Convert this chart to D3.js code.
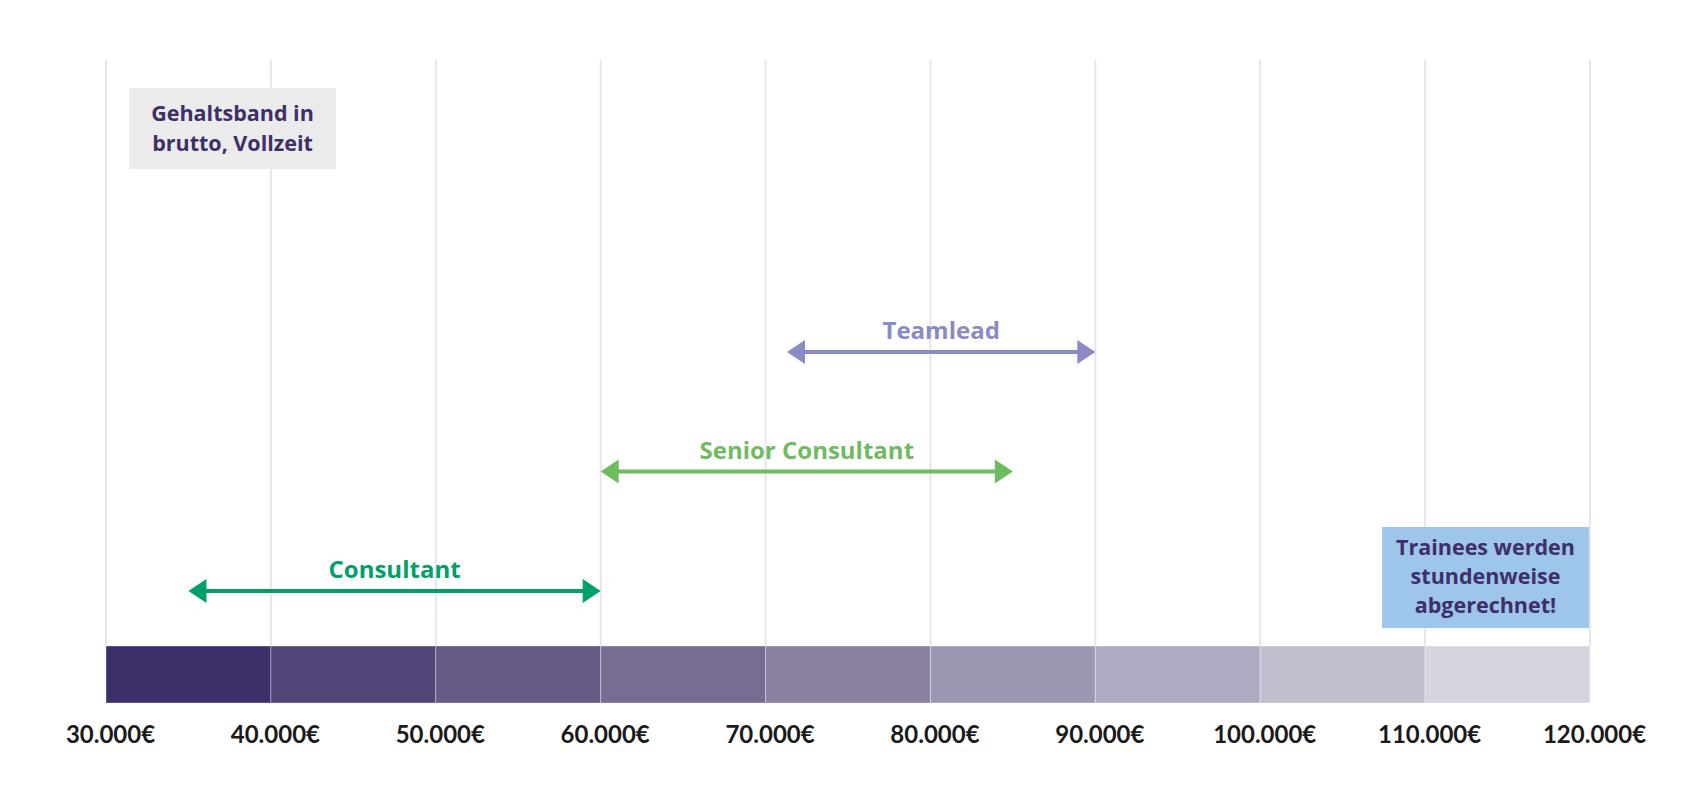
<!DOCTYPE html>
<html>
<head>
<meta charset="utf-8">
<script src="https://cdn.jsdelivr.net/npm/d3@7"></script>
<style>
  body { margin: 0; background: #fff; }
  svg text { font-family: "Open Sans", Lato, sans-serif; font-weight: 700; }
</style>
</head>
<body>
<div id="chart"></div>
<script>
// salary ticks and band colours
var ticks = [30000, 40000, 50000, 60000, 70000, 80000, 90000, 100000, 110000, 120000];
var bandColors = ['#3e2f6a', '#514476', '#645a84', '#776d93', '#8a80a1', '#9c96b3', '#b0abc3', '#c2bed0', '#d7d4df'];

// roles and their ranges
var roles = ['Consultant', 'Senior Consultant', 'Teamlead'];
var roleMin = [35000, 60000, 71300];
var roleMax = [60000, 85000, 90000];
var roleColors = ['#00a06a', '#6fbb5f', '#8a8ac4'];

var W = 1700, H = 800;
var bandTop = 646, bandBottom = 703, gridTop = 60;

var svg = d3.select("#chart")
    .append("svg")
    .attr("width", W)
    .attr("height", H);

var x = d3.scaleLinear()
    .domain([30000, 120000])
    .range([106, 1590]);

var y = d3.scalePoint()
    .domain(roles)
    .range([591, 352]);

// ---- grid lines
svg.append("g").attr("class", "grid")
    .selectAll("line")
    .data(ticks)
    .enter()
    .append("line")
    .attr("x1", function(d) { return x(d); })
    .attr("x2", function(d) { return x(d); })
    .attr("y1", gridTop)
    .attr("y2", bandTop)
    .attr("stroke", "#e6e5ee")
    .attr("stroke-width", 2);

// ---- colour band
var segs = ticks.slice(0, -1);
svg.append("g").attr("class", "band")
    .selectAll("rect")
    .data(segs)
    .enter()
    .append("rect")
    .attr("x", function(d) { return x(d); })
    .attr("y", bandTop)
    .attr("width", function(d) { return x(d + 10000) - x(d); })
    .attr("height", bandBottom - bandTop)
    .attr("fill", function(d, i) { return bandColors[i]; })
    .attr("stroke", "rgba(255,255,255,0.35)")
    .attr("stroke-width", 1);

// ---- x axis labels
var fmt = function(d) { return d3.format(",")(d).replace(/,/g, ".") + "€"; };
var xAxis = d3.axisBottom(x).tickValues(ticks).tickSize(0).tickPadding(0).tickFormat(fmt);
var axisG = svg.append("g")
    .attr("class", "x axis")
    .attr("transform", "translate(4," + bandBottom + ")")
    .call(xAxis);
axisG.select(".domain").remove();
axisG.selectAll("text")
    .attr("y", 40)
    .attr("dy", 0)
    .attr("font-size", 24)
    .attr("fill", "#1a1a1a")
    .style("font-family", "Lato, sans-serif")
    .style("font-weight", 700);

// ---- role arrows
var headLen = 18, headHalf = 12;
var arrows = svg.append("g").attr("class", "arrows")
    .selectAll("g")
    .data(roles)
    .enter()
    .append("g");

arrows.append("line")
    .attr("x1", function(d, i) { return x(roleMin[i]) + headLen - 2; })
    .attr("x2", function(d, i) { return x(roleMax[i]) - headLen + 2; })
    .attr("y1", function(d) { return y(d); })
    .attr("y2", function(d) { return y(d); })
    .attr("stroke", function(d, i) { return roleColors[i]; })
    .attr("stroke-width", 4);

arrows.append("path")
    .attr("d", function(d, i) {
        var x0 = x(roleMin[i]), yy = y(d);
        return "M" + x0 + "," + yy + "L" + (x0 + headLen) + "," + (yy - headHalf) +
            "L" + (x0 + headLen) + "," + (yy + headHalf) + "Z";
    })
    .attr("fill", function(d, i) { return roleColors[i]; });

arrows.append("path")
    .attr("d", function(d, i) {
        var x1 = x(roleMax[i]), yy = y(d);
        return "M" + x1 + "," + yy + "L" + (x1 - headLen) + "," + (yy - headHalf) +
            "L" + (x1 - headLen) + "," + (yy + headHalf) + "Z";
    })
    .attr("fill", function(d, i) { return roleColors[i]; });

arrows.append("text")
    .attr("x", function(d, i) { return (x(roleMin[i]) + x(roleMax[i])) / 2; })
    .attr("y", function(d) { return y(d) - 13; })
    .attr("text-anchor", "middle")
    .attr("font-size", 24)
    .attr("fill", function(d, i) { return roleColors[i]; })
    .text(function(d) { return d; });

// ---- note boxes
function noteBox(x0, y0, w, h, fill, lines, baseY, lh) {
    var g = svg.append("g").attr("class", "note");
    g.append("rect")
        .attr("x", x0).attr("y", y0)
        .attr("width", w).attr("height", h)
        .attr("fill", fill);
    g.selectAll("text")
        .data(lines)
        .enter()
        .append("text")
        .attr("x", x0 + w / 2)
        .attr("y", function(d, i) { return baseY + i * lh; })
        .attr("text-anchor", "middle")
        .attr("font-size", 21.5)
        .attr("fill", "#3e2f6a")
        .text(function(d) { return d; });
}

noteBox(129, 88, 207, 81, "#ebebeb", ["Gehaltsband in", "brutto, Vollzeit"], 121, 29.5);
noteBox(1382, 527, 207, 101, "#9dc6ea", ["Trainees werden", "stundenweise", "abgerechnet!"], 555, 29);
</script>
</body>
</html>
